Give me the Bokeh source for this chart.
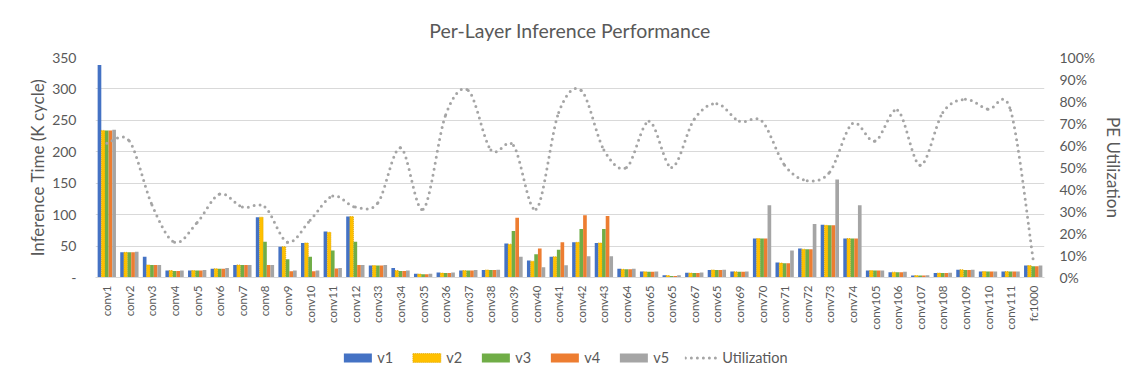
import math
from bokeh.plotting import figure
from bokeh.layouts import column
from bokeh.models import (ColumnDataSource, Range1d, LinearAxis, FixedTicker,
                          PrintfTickFormatter, Legend, LegendItem)
from bokeh.transform import dodge
from bokeh.embed import file_html
from bokeh.resources import INLINE

categories = ["conv1", "conv2", "conv3", "conv4", "conv5", "conv6", "conv7", "conv8",
              "conv9", "conv10", "conv11", "conv12", "conv33", "conv34", "conv35", "conv36",
              "conv37", "conv38", "conv39", "conv40", "conv41", "conv42", "conv43", "conv64",
              "conv65", "conv65", "conv67", "conv65", "conv69", "conv70", "conv71", "conv72",
              "conv73", "conv74", "conv105", "conv106", "conv107", "conv108", "conv109",
              "conv110", "conv111", "fc1000"]

v1 = [338, 40, 33, 11, 11, 14, 20, 96, 49, 55, 73, 97, 19, 15, 6, 8,
      11, 12, 54, 27, 33, 56, 55, 14, 9.5, 3.5, 7.5, 12, 9.5, 62, 24, 46,
      84, 62, 11, 8.5, 3, 7, 12.5, 9.5, 9.5, 19]
v2 = [234, 40, 20, 11, 11, 14, 20, 96, 49, 55, 72, 97, 19, 11, 5.5, 7,
      11, 12, 53, 26, 33, 56, 55, 13, 9, 3, 7, 12, 9, 62, 23, 45,
      83, 62, 11, 8.5, 3, 7, 12.5, 9.5, 9.5, 19]
v3 = [234, 40, 20, 10.5, 11, 14, 20, 57, 29, 33, 43, 57, 19, 10.5, 5, 7,
      11, 12, 74, 37, 44, 77, 77, 13, 9, 2.5, 7, 12, 9, 62, 22.5, 45,
      83, 62, 11, 8.5, 3, 7, 12, 9.5, 9.5, 18]
v4 = [234, 40, 20, 10.5, 11, 14, 20, 20, 10, 10, 14.5, 20, 19, 10.5, 5, 7,
      11, 12, 95, 46, 56, 99, 98, 13, 9, 2.5, 7, 12, 9, 62, 22.5, 45,
      83, 62, 11, 8.5, 3, 7, 12, 9.5, 9.5, 18]
v5 = [235, 41, 20, 11, 12, 15, 20, 20, 11, 11, 15, 20, 20, 11, 6, 8,
      12, 12.5, 33, 16.5, 19.5, 34, 34, 14, 9.5, 3.5, 8, 12.5, 9.5, 115, 43, 85,
      156, 115, 11, 9, 3.5, 7.5, 12.5, 9.5, 9.5, 19]
utilization = [61, 62, 33, 16, 25, 38, 32, 32, 16, 26, 37, 32, 34, 59, 31, 74,
               85, 58, 60, 31, 75, 85, 58, 50, 71, 50, 72, 79, 71, 71, 51, 44,
               48, 70, 62, 76, 51, 75, 81, 76.5, 76, 8]

series_names = ["v1", "v2", "v3", "v4", "v5"]
series_vals = [v1, v2, v3, v4, v5]
colors = ["#4472C4", "#FFC000", "#70AD47", "#ED7D31", "#A5A5A5"]

FONT = "Lato"
TXT = "#595959"
GRID = "#D9D9D9"
UTIL_STYLE = dict(line_color="#A5A5A5", line_width=3, line_dash="0 6", line_cap="round")

n = len(categories)
idx = list(range(n))
data = {"idx": idx, "util": utilization}
for nm, vals in zip(series_names, series_vals):
    data[nm] = vals
src = ColumnDataSource(data)

p = figure(frame_width=949, frame_height=220, output_backend="svg", toolbar_location=None,
           x_range=Range1d(-0.5, n - 0.5), y_range=Range1d(0, 350),
           min_border_left=83, min_border_right=93, min_border_top=57,
           min_border_bottom=6, title="Per-Layer Inference Performance")
p.outline_line_color = None
p.background_fill_color = "white"
p.border_fill_color = "white"

p.title.align = "center"
p.title.text_font = FONT
p.title.text_font_size = "19.5px"
p.title.text_font_style = "normal"
p.title.text_color = TXT
p.title.standoff = 31


def bar_style(nm):
    if nm == "v2":
        return dict(line_color="#D9A300", line_width=0.8, line_dash="1 1")
    return dict(line_color=None)


# bars
bw = 0.162
for k, (nm, col) in enumerate(zip(series_names, colors)):
    off = (k - 2) * bw
    p.vbar(x=dodge("idx", off, range=p.x_range), top=nm, width=bw, source=src,
           fill_color=col, **bar_style(nm))

# utilization smoothed line on secondary axis
p.extra_y_ranges = {"util": Range1d(0, 100)}
xs = idx
ys = utilization
x0, y0, x1, y1, cx0, cy0, cx1, cy1 = [], [], [], [], [], [], [], []
for i in range(n - 1):
    im1 = max(i - 1, 0)
    ip2 = min(i + 2, n - 1)
    x0.append(xs[i]); y0.append(ys[i])
    x1.append(xs[i + 1]); y1.append(ys[i + 1])
    cx0.append(xs[i] + (xs[i + 1] - xs[im1]) / 6.0)
    cy0.append(ys[i] + (ys[i + 1] - ys[im1]) / 6.0)
    cx1.append(xs[i + 1] - (xs[ip2] - xs[i]) / 6.0)
    cy1.append(ys[i + 1] - (ys[ip2] - ys[i]) / 6.0)
bsrc = ColumnDataSource(dict(x0=x0, y0=y0, x1=x1, y1=y1, cx0=cx0, cy0=cy0, cx1=cx1, cy1=cy1))
p.bezier(x0="x0", y0="y0", x1="x1", y1="y1", cx0="cx0", cy0="cy0", cx1="cx1",
         cy1="cy1", source=bsrc, y_range_name="util", **UTIL_STYLE)

# axes
p.xaxis.ticker = FixedTicker(ticks=idx)
p.xaxis.major_label_overrides = {i: c for i, c in enumerate(categories)}
p.xaxis.major_label_orientation = math.pi / 2
p.xaxis.major_tick_line_color = None
p.xaxis.major_tick_out = 0
p.xaxis.major_tick_in = 0
p.xaxis.minor_tick_line_color = None
p.xaxis.axis_line_color = GRID
p.xaxis.major_label_text_font = FONT
p.xaxis.major_label_text_font_size = "11.5px"
p.xaxis.major_label_text_color = TXT
p.xaxis.major_label_standoff = 8
p.xgrid.grid_line_color = None

p.yaxis.ticker = FixedTicker(ticks=[0, 50, 100, 150, 200, 250, 300, 350])
p.yaxis.major_label_overrides = {0: "-"}
p.yaxis.axis_line_color = None
p.yaxis.major_tick_line_color = None
p.yaxis.minor_tick_line_color = None
p.yaxis.major_label_text_font = FONT
p.yaxis.major_label_text_font_size = "14px"
p.yaxis.major_label_text_color = TXT
p.yaxis.major_label_standoff = 13
p.yaxis.axis_label = "Inference Time (K cycle)"
p.yaxis.axis_label_text_font = FONT
p.yaxis.axis_label_text_font_size = "17px"
p.yaxis.axis_label_text_font_style = "normal"
p.yaxis.axis_label_text_color = TXT
p.yaxis.axis_label_standoff = 1
p.ygrid.grid_line_color = GRID
p.ygrid.ticker = p.yaxis.ticker

raxis = LinearAxis(y_range_name="util", ticker=FixedTicker(ticks=list(range(0, 101, 10))),
                   formatter=PrintfTickFormatter(format="%d%%"))
raxis.axis_line_color = None
raxis.major_tick_line_color = None
raxis.minor_tick_line_color = None
raxis.major_label_text_font = FONT
raxis.major_label_text_font_size = "14px"
raxis.major_label_text_color = TXT
raxis.major_label_standoff = 9
raxis.axis_label = "PE Utilization"
raxis.axis_label_text_font = FONT
raxis.axis_label_text_font_size = "17px"
raxis.axis_label_text_font_style = "normal"
raxis.axis_label_text_color = TXT
raxis.axis_label_standoff = 5
p.add_layout(raxis, "right")

# legend strip below the chart: same series, viewed through ranges that show no marks
lf = figure(width=1125, height=40, output_backend="svg", toolbar_location=None,
            x_range=Range1d(1000, 1001), y_range=Range1d(1000, 1001),
            min_border_left=95, min_border_right=81, min_border_top=0, min_border_bottom=0)
lf.axis.visible = False
lf.grid.grid_line_color = None
lf.outline_line_color = None
lf.background_fill_color = "white"
lf.border_fill_color = "white"

items = []
for nm, col in zip(series_names, colors):
    r = lf.vbar(x="idx", top=nm, width=bw, source=src, fill_color=col, **bar_style(nm))
    items.append(LegendItem(label=nm, renderers=[r]))
rl = lf.line(x="idx", y="util", source=src, **UTIL_STYLE)
items.append(LegendItem(label="Utilization", renderers=[rl]))

legend = Legend(items=items, orientation="horizontal", location="top_center")
legend.border_line_color = None
legend.background_fill_alpha = 0
legend.label_text_font = FONT
legend.label_text_font_size = "14.5px"
legend.label_text_color = TXT
legend.glyph_width = 35
legend.glyph_height = 11
legend.label_height = 20
legend.label_standoff = 3
legend.spacing = 11
legend.padding = 0
legend.margin = 15
lf.add_layout(legend, "center")

layout = column(p, lf, spacing=0)
open("out.html", "w").write(file_html(layout, INLINE))
